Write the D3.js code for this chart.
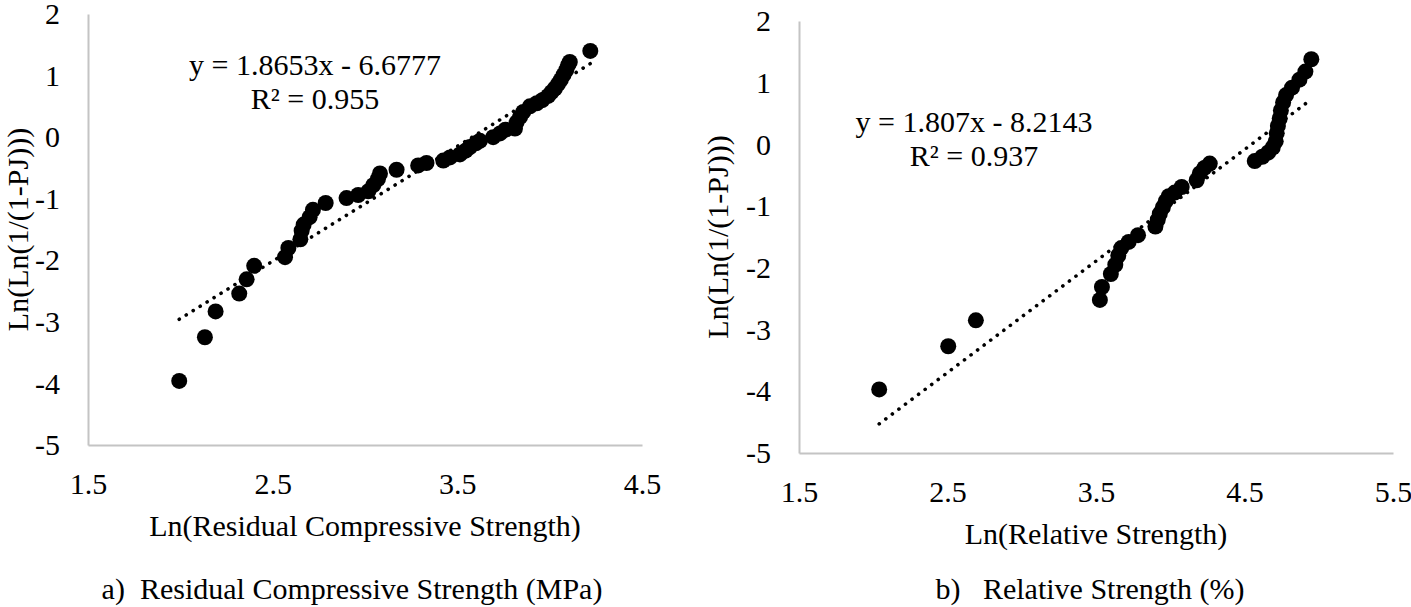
<!DOCTYPE html>
<html>
<head>
<meta charset="utf-8">
<script src="https://cdn.jsdelivr.net/npm/d3@7"></script>
<style>
  body { margin: 0; background: #fff; }
  text { font-family: "Liberation Serif", "Times New Roman", serif; fill: #000; }
</style>
</head>
<body>
<div class="chart-container"></div>
<script>
// Panel a) Ln(residual compressive strength) vs Ln(Ln(1/(1-PJ)))
const resX = [1.994, 2.133, 2.191, 2.319, 2.359, 2.400, 2.567, 2.585, 2.650, 2.657,
  2.668, 2.700, 2.718, 2.787, 2.900, 2.963, 3.018, 3.045, 3.070, 3.081,
  3.171, 3.288, 3.333, 3.424, 3.460, 3.514, 3.545, 3.568, 3.600, 3.622,
  3.694, 3.731, 3.760, 3.812, 3.821, 3.840, 3.857, 3.893, 3.930, 3.960,
  3.992, 4.010, 4.028, 4.045, 4.060, 4.075, 4.090, 4.100, 4.109, 4.220];
const resY = [-3.96, -3.25, -2.83, -2.54, -2.31, -2.09, -1.95, -1.80, -1.66, -1.52,
  -1.42, -1.30, -1.18, -1.07, -0.99, -0.94, -0.88, -0.78, -0.68, -0.59,
  -0.53, -0.46, -0.42, -0.38, -0.33, -0.28, -0.22, -0.16, -0.10, -0.06,
  0.00, 0.06, 0.12, 0.14, 0.24, 0.33, 0.41, 0.50, 0.55, 0.60,
  0.67, 0.73, 0.79, 0.86, 0.93, 1.01, 1.09, 1.17, 1.22, 1.40];

// Panel b) Ln(relative strength)
const relX = [2.040, 2.505, 2.691, 3.526, 3.540, 3.600, 3.630, 3.650, 3.670, 3.720,
  3.783, 3.900, 3.916, 3.930, 3.950, 3.970, 3.990, 4.030, 4.077, 4.178,
  4.199, 4.230, 4.266, 4.569, 4.620, 4.660, 4.690, 4.710, 4.717, 4.725,
  4.737, 4.745, 4.760, 4.780, 4.820, 4.870, 4.910, 4.950];
const relY = [-3.97, -3.27, -2.85, -2.52, -2.31, -2.10, -1.95, -1.80, -1.68, -1.58,
  -1.47, -1.33, -1.22, -1.12, -1.02, -0.92, -0.84, -0.78, -0.69, -0.58,
  -0.47, -0.38, -0.31, -0.27, -0.20, -0.13, -0.05, 0.05, 0.18, 0.30,
  0.42, 0.55, 0.68, 0.80, 0.92, 1.05, 1.18, 1.38];

const yTicks = [2, 1, 0, -1, -2, -3, -4, -5];
const xTicksA = [1.5, 2.5, 3.5, 4.5];
const xTicksB = [1.5, 2.5, 3.5, 4.5, 5.5];

// fitted trend lines (from the chart labels)
const fitA = { slope: 1.8653, intercept: -6.6777, eq: "y = 1.8653x - 6.6777", r2: "R\u00b2 = 0.955" };
const fitB = { slope: 1.807, intercept: -8.2143, eq: "y = 1.807x - 8.2143", r2: "R\u00b2 = 0.937" };

const svg = d3.select(".chart-container")
  .append("svg")
    .attr("width", 1411)
    .attr("height", 607);

const fontSize = 30;

function drawPanel(opts) {
  const x = d3.scaleLinear().domain(opts.xDomain).range([opts.left, opts.right]);
  const y = d3.scaleLinear().domain([-5, 2]).range([opts.bottom, opts.top]);

  const g = svg.append("g");

  // axes: grey lines, no ticks
  const gx = g.append("g")
    .attr("transform", `translate(0, ${opts.bottom})`)
    .call(d3.axisBottom(x).tickValues(opts.xTicks).tickSize(0).tickSizeOuter(0).tickPadding(28)
      .tickFormat(d3.format(".1f")));
  const gy = g.append("g")
    .attr("transform", `translate(${opts.left}, 0)`)
    .call(d3.axisLeft(y).tickValues(yTicks).tickSize(0).tickSizeOuter(0).tickPadding(28)
      .tickFormat(d => d3.format("d")(d).replace("\u2212", "-")));

  [gx, gy].forEach(a => {
    a.attr("font-family", null).attr("font-size", null);
    a.select(".domain").attr("stroke", "#c4c4c4").attr("stroke-width", 2);
    a.selectAll("text").style("font-size", fontSize + "px");
  });

  // points
  const pts = opts.xs.map((v, i) => ({ x: v, y: opts.ys[i] }));
  g.append("g").selectAll("circle")
    .data(pts)
    .join("circle")
      .attr("cx", d => x(d.x))
      .attr("cy", d => y(d.y))
      .attr("r", 8)
      .attr("fill", "#000");

  // dotted linear trend line
  const ext = d3.extent(opts.xs);
  const trend = ext.map(v => ({ x: v, y: opts.fit.slope * v + opts.fit.intercept }));
  g.append("path")
    .datum(trend)
    .attr("d", d3.line().x(d => x(d.x)).y(d => y(d.y)))
    .attr("fill", "none")
    .attr("stroke", "#000")
    .attr("stroke-width", 3.6)
    .attr("stroke-linecap", "round")
    .attr("stroke-dasharray", "0.1 8.1");

  // equation label
  g.append("text")
    .attr("x", opts.eqX).attr("y", opts.eqY)
    .attr("text-anchor", "middle")
    .style("font-size", fontSize + "px")
    .text(opts.fit.eq);
  g.append("text")
    .attr("x", opts.eqX).attr("y", opts.eqY + 34)
    .attr("text-anchor", "middle")
    .style("font-size", fontSize + "px")
    .text(opts.fit.r2);

  // axis titles
  g.append("text")
    .attr("transform", `translate(${opts.yTitleX}, ${(opts.top + opts.bottom) / 2}) rotate(-90)`)
    .attr("text-anchor", "middle")
    .style("font-size", fontSize + "px")
    .text("Ln(Ln(1/(1-PJ)))");
  g.append("text")
    .attr("x", (opts.left + opts.right) / 2)
    .attr("y", opts.bottom + 91)
    .attr("text-anchor", "middle")
    .style("font-size", fontSize + "px")
    .text(opts.xTitle);

  // caption
  g.append("text")
    .attr("x", opts.capX)
    .attr("y", 599)
    .attr("text-anchor", "middle")
    .style("font-size", fontSize + "px")
    .style("white-space", "pre")
    .attr("xml:space", "preserve")
    .text(opts.caption);
}

drawPanel({
  xs: resX, ys: resY, fit: fitA,
  xDomain: [1.5, 4.5], xTicks: xTicksA,
  left: 88, right: 642, top: 14, bottom: 445,
  eqX: 315, eqY: 75, yTitleX: 28,
  xTitle: "Ln(Residual Compressive Strength)",
  caption: "a)  Residual Compressive Strength (MPa)", capX: 352
});

drawPanel({
  xs: relX, ys: relY, fit: fitB,
  xDomain: [1.5, 5.5], xTicks: xTicksB,
  left: 799, right: 1393, top: 21, bottom: 453,
  eqX: 974, eqY: 132, yTitleX: 728,
  xTitle: "Ln(Relative Strength)",
  caption: "b)   Relative Strength (%)", capX: 1090
});
</script>
</body>
</html>
